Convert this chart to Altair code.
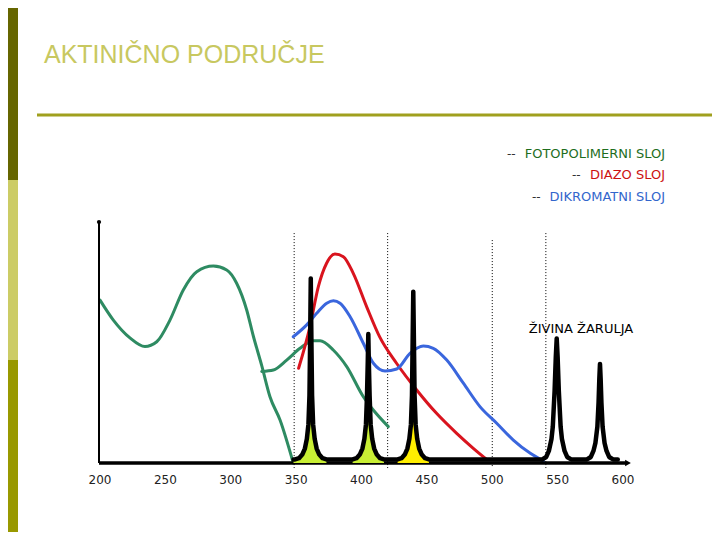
import altair as alt
import pandas as pd

# ---- data (wavelength nm, relative absorption / intensity 0..100) ----
green_x = [200, 210.2, 222.9, 234.4, 243.4, 253.5, 263.7, 274.0, 286.7, 296.9,
           304.5, 312.2, 317.2, 323.7, 330.0, 337.7, 347.8]
green_y = [67.6, 59.3, 51.9, 48.3, 50.3, 59.3, 71.8, 79.4, 81.7, 80.1,
           74.6, 63.5, 52.8, 40.4, 27.5, 17.8, 0.0]

green2_x = [323.7, 332.6, 342.8, 353.0, 363.2, 368.3, 378.4, 388.7, 401.4, 409.0, 420.5]
green2_y = [38.0, 38.6, 42.7, 47.6, 50.7, 50.7, 46.9, 40.0, 27.5, 22.0, 15.1]

red_x = [351.9, 360.6, 367.0, 373.3, 379.7, 386.1, 393.7, 403.9, 414.1, 426.8,
         442.2, 457.4, 472.8, 485.5, 495.7]
red_y = [39.3, 56.6, 73.2, 82.9, 86.7, 85.6, 78.7, 64.9, 52.1, 41.4,
         30.3, 20.6, 12.3, 6.1, 1.5]

blue_x = [347.8, 358.1, 365.7, 373.4, 378.5, 383.6, 391.3, 401.4, 409.1, 418.0,
          426.9, 437.1, 447.3, 454.9, 465.2, 477.9, 490.6, 503.4, 516.1, 529.1, 539.1]
blue_y = [52.4, 57.3, 62.1, 66.3, 67.3, 66.3, 60.7, 49.7, 41.4, 38.2,
          39.0, 45.5, 48.5, 47.6, 42.7, 33.1, 23.4, 16.5, 9.5, 4.0, 0.8]

# mercury lamp emission spectrum
hg_x = [348,
        349.2, 352.2, 354.7, 356.7, 358.2, 359.4, 360.2, 360.7, 361.2, 361.7, 362.2, 363.0,
        364.2, 365.7, 367.7, 370.2, 373.2,
        383,
        393.2, 396.2, 398.7, 400.7, 402.2, 403.4, 404.2, 404.8, 405.2, 405.6, 406.2, 407.0,
        408.2, 409.7, 411.7, 414.2, 417.2,
        422,
        427.6, 430.6, 433.1, 435.1, 436.6, 437.8, 438.6, 439.1, 439.6, 440.1, 440.6, 441.4,
        442.6, 444.1, 446.1, 448.6, 451.6,
        480, 510,
        538.3, 541.3, 543.3, 545.3, 546.3, 547.7, 548.6, 549.3, 550.0, 550.9, 552.3, 553.3,
        555.3, 557.3, 560.3,
        566,
        572.4, 575.4, 577.4, 578.9, 580.4, 581.3, 581.9, 582.4, 582.9, 583.5, 584.4, 585.9,
        587.4, 589.4, 592.4,
        596]
hg_y = [1.5,
        1.5, 2, 3.5, 6, 10, 16, 28, 50, 76.6, 50, 28, 16,
        10, 6, 3.5, 2, 1.5,
        1.5,
        1.5, 2, 3.5, 6, 10, 16, 28, 42, 53.5, 42, 28, 16,
        10, 6, 3.5, 2, 1.5,
        1.5,
        1.5, 2, 3.5, 6, 10, 16, 28, 50, 71.1, 50, 28, 16,
        10, 6, 3.5, 2, 1.5,
        1.5, 1.5,
        1.5, 2.5, 5, 10, 15, 30, 44, 51.7, 44, 30, 15, 10,
        5, 2.5, 1.5,
        1.5,
        1.5, 2.5, 5, 8.3, 15, 25, 35, 41.1, 35, 25, 15, 8.3,
        5, 2.5, 1.5,
        1.5]

fill_from = [348, 392, 426]
fill_to = [374, 418, 452]
fill_colors = ["#C8EE34", "#C8EE34", "#FFEE00"]

vline_x = [348.5, 420, 500, 541]
vline_top = [95.4, 95.4, 92.5, 95.4]
vline_bottom = [-2.1, -2.1, -2.1, -2.1]

tick_vals = [200, 250, 300, 350, 400, 450, 500, 550, 600]

legend_labels = ["FOTOPOLIMERNI SLOJ", "DIAZO SLOJ", "DIKROMATNI SLOJ"]
legend_colors = ["#1E6E1E", "#CC1111", "#3366CC"]

# ---- scales ----
xs = alt.Scale(domain=[200, 600], range=[92, 615], zero=False, nice=False)
ys = alt.Scale(domain=[0, 100], range=[455, 214], zero=False, nice=False)

def X(f="x"):
    return alt.X(f"{f}:Q", scale=xs, axis=None)

def Y(f="y"):
    return alt.Y(f"{f}:Q", scale=ys, axis=None, stack=None)

one = pd.DataFrame({"a": [0]})

# ---- decorations (slide frame) ----
sidebar = alt.layer(*[
    alt.Chart(one).mark_rect(color=c).encode(
        x=alt.value(0), x2=alt.value(10), y=alt.value(a), y2=alt.value(b))
    for a, b, c in zip([0, 172, 352], [172, 352, 532], ["#666600", "#CCCC66", "#999900"])
])

title = alt.Chart(one).mark_text(
    text="AKTINIČNO PODRUČJE", font="Liberation Sans", fontSize=25,
    color="#C8C860", align="left", baseline="alphabetic"
).encode(x=alt.value(36), y=alt.value(55))

hline = alt.Chart(one).mark_rule(color="#A0A01E", strokeWidth=3).encode(
    x=alt.value(29), x2=alt.value(704), y=alt.value(107))

# legend texts
leg_y = [146, 167, 189]
leg_dash_x = [499, 564, 524]
legend_layers = []
for lab, col, yy, dx in zip(legend_labels, legend_colors, leg_y, leg_dash_x):
    legend_layers.append(alt.Chart(one).mark_text(
        text="--", font="DejaVu Sans", fontSize=12, color="#333333",
        align="left", baseline="middle").encode(x=alt.value(dx), y=alt.value(yy)))
    legend_layers.append(alt.Chart(one).mark_text(
        text=lab, font="DejaVu Sans", fontSize=13, color=col,
        align="right", baseline="middle").encode(x=alt.value(657), y=alt.value(yy)))

lamp_label = alt.Chart(one).mark_text(
    text="ŽIVINA ŽARULJA", font="DejaVu Sans", fontSize=13, color="black",
    align="center", baseline="middle").encode(x=alt.value(573), y=alt.value(321))

# ---- chart content ----
vdf = pd.DataFrame({"x": vline_x, "y": vline_top, "y2": vline_bottom})
vlines = alt.Chart(vdf).mark_rule(color="black", strokeWidth=1, strokeDash=[1, 2]).encode(
    x=X(), y=Y(), y2="y2:Q")

def curve(xv, yv, color, width=3):
    return alt.Chart(pd.DataFrame({"x": xv, "y": yv, "o": range(len(xv))})).mark_line(
        color=color, strokeWidth=width, interpolate="monotone", strokeCap="round"
    ).encode(x=X(), y=Y(), order="o:Q")

green = curve(green_x, green_y, "#2E8B62")
green2 = curve(green2_x, green2_y, "#2E8B62")
red = curve(red_x, red_y, "#D9141E")
blue = curve(blue_x, blue_y, "#3A66DD")

hg = pd.DataFrame({"x": hg_x, "y": hg_y})
fill_layers = []
for a, b, c in zip(fill_from, fill_to, fill_colors):
    sub = hg[(hg.x >= a) & (hg.x <= b)].reset_index(drop=True)
    fill_layers.append(alt.Chart(sub).mark_area(color=c, opacity=1, interpolate="linear").encode(
        x=X(), y=Y(), y2=alt.Y2(datum=0)))

hg_line = alt.Chart(hg).mark_line(color="black", strokeWidth=4.5, strokeJoin="round",
                                  strokeCap="round").encode(x=X(), y=Y())

# axes
yaxis = alt.Chart(one).mark_rule(color="black", strokeWidth=2).encode(
    x=alt.value(91), y=alt.value(455), y2=alt.value(214))
ydot = alt.Chart(one).mark_point(shape="circle", filled=True, color="black", size=18, opacity=1).encode(
    x=alt.value(91), y=alt.value(214))
xaxis = alt.Chart(one).mark_rule(color="black", strokeWidth=3.5).encode(
    x=alt.value(91), x2=alt.value(618), y=alt.value(455))
xarrow = alt.Chart(one).mark_point(shape="triangle-right", filled=True, color="black",
                                   size=45, opacity=1).encode(x=alt.value(620), y=alt.value(455))

ticks = alt.Chart(pd.DataFrame({"x": tick_vals, "t": [str(v) for v in tick_vals]})).mark_text(
    font="DejaVu Sans", fontSize=12, color="#222222", baseline="middle", align="center"
).encode(x=X(), y=alt.value(472), text="t:N")

chart = alt.layer(
    sidebar, title, hline, *legend_layers, lamp_label,
    vlines, green, green2, red, blue, yaxis, xaxis, xarrow, ydot,
    *fill_layers, hg_line, ticks
).properties(
    width=704, height=524, padding=0,
    autosize=alt.AutoSizeParams(type="none"),
    background="white"
).configure_view(stroke=None)

chart.save("out.html", embed_options={"renderer": "svg", "actions": False})
